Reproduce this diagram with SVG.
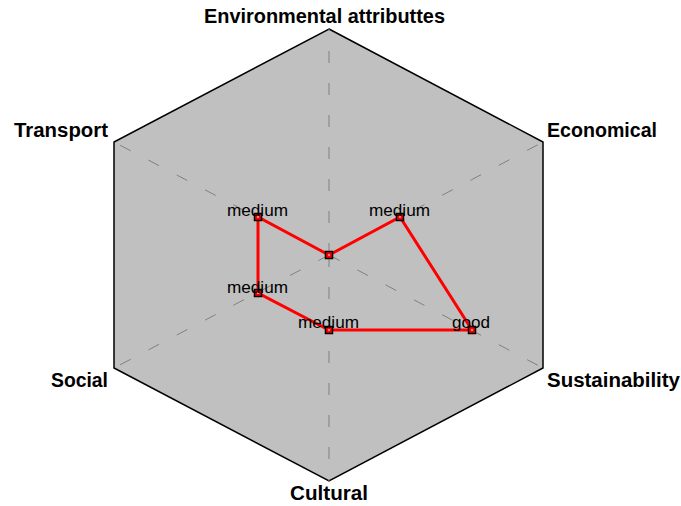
<svg xmlns="http://www.w3.org/2000/svg" width="681" height="506" viewBox="0 0 681 506">
<style>
.axis{stroke:#808080;stroke-width:1;stroke-dasharray:12 20;fill:none}
.lbl{font-family:"Liberation Sans",Arial,sans-serif;font-weight:bold;font-size:19.5px;fill:#000}
.val{font-family:"Liberation Sans",Arial,sans-serif;font-size:17px;fill:#000}
.pt{fill:#ff0000;stroke:#000;stroke-width:1.5}
.dot{fill:#fff}
</style>
<rect width="681" height="506" fill="#fff"/>
<g id="chart">
<polygon points="329,29 543,142 543,368 329,481 114,368 114,142" fill="#c0c0c0" stroke="#000" stroke-width="1.5"/>
</g>
<g id="axes">
<line class="axis" x1="329" y1="255" x2="329" y2="29"/>
<line class="axis" x1="329" y1="255" x2="543" y2="142"/>
<line class="axis" x1="329" y1="255" x2="543" y2="368"/>
<line class="axis" x1="329" y1="255" x2="329" y2="481"/>
<line class="axis" x1="329" y1="255" x2="114" y2="368"/>
<line class="axis" x1="329" y1="255" x2="114" y2="142"/>
</g>
<g id="labels">
<text class="lbl" x="204" y="23" textLength="241" lengthAdjust="spacingAndGlyphs">Environmental attributtes</text>
<text class="lbl" x="547" y="137" textLength="110" lengthAdjust="spacingAndGlyphs">Economical</text>
<text class="lbl" x="547" y="387" textLength="133" lengthAdjust="spacingAndGlyphs">Sustainability</text>
<text class="lbl" x="290" y="500" textLength="78" lengthAdjust="spacingAndGlyphs">Cultural</text>
<text class="lbl" x="51" y="387" textLength="57" lengthAdjust="spacingAndGlyphs">Social</text>
<text class="lbl" x="14" y="137" textLength="94" lengthAdjust="spacingAndGlyphs">Transport</text>
</g>
<g id="connectors">
<polygon points="329,255 400,217 472,330 329,330 258,293 258,217" fill="none" stroke="#ff0000" stroke-width="3" stroke-linejoin="miter"/>
</g>
<g id="p-env"><rect class="pt" x="325.5" y="251.5" width="7" height="7"/><rect class="dot" x="328" y="254.5" width="2" height="1"/></g>
<g id="p-eco"><rect class="pt" x="396.5" y="213.5" width="7" height="7"/><rect class="dot" x="399" y="216.5" width="2" height="1"/><text class="val" x="369" y="216" textLength="61" lengthAdjust="spacingAndGlyphs">medium</text></g>
<g id="p-sus"><rect class="pt" x="468.5" y="326.5" width="7" height="7"/><rect class="dot" x="471" y="329.5" width="2" height="1"/><text class="val" x="452" y="328" textLength="38" lengthAdjust="spacingAndGlyphs">good</text></g>
<g id="p-cul"><rect class="pt" x="325.5" y="326.5" width="7" height="7"/><rect class="dot" x="328" y="329.5" width="2" height="1"/><text class="val" x="298" y="328" textLength="61" lengthAdjust="spacingAndGlyphs">medium</text></g>
<g id="p-soc"><rect class="pt" x="254.5" y="289.5" width="7" height="7"/><rect class="dot" x="257" y="292.5" width="2" height="1"/><text class="val" x="227" y="293" textLength="61" lengthAdjust="spacingAndGlyphs">medium</text></g>
<g id="p-tra"><rect class="pt" x="254.5" y="213.5" width="7" height="7"/><rect class="dot" x="257" y="216.5" width="2" height="1"/><text class="val" x="227" y="216" textLength="61" lengthAdjust="spacingAndGlyphs">medium</text></g>
</svg>
